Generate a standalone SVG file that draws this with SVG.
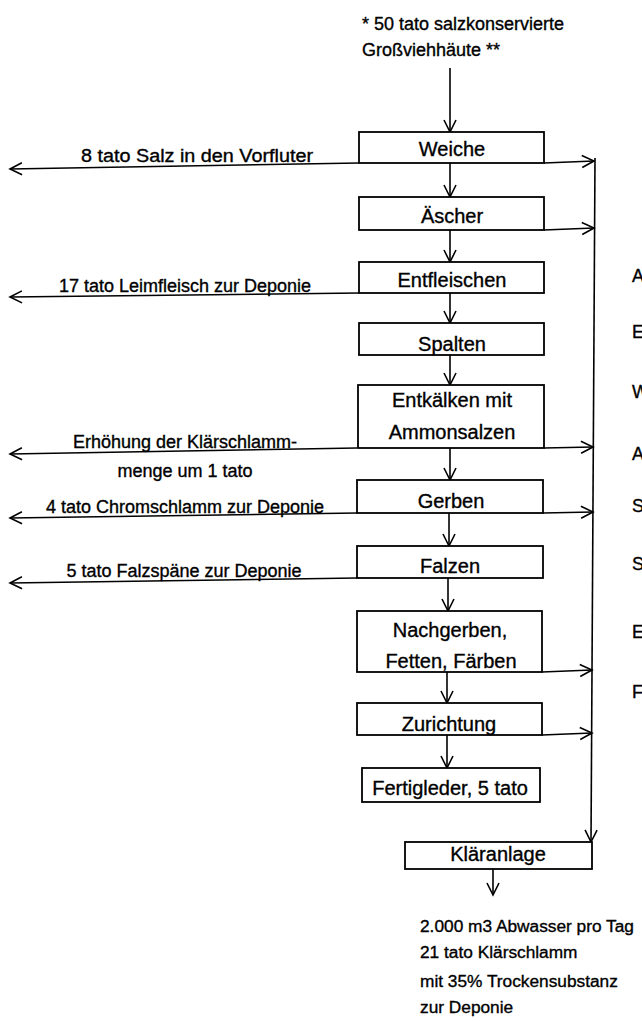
<svg xmlns="http://www.w3.org/2000/svg" width="642" height="1021" viewBox="0 0 642 1021">
<style>
  text { font-family: "Liberation Sans", Arial, sans-serif; font-size: 18px; fill: #000; stroke: #000; stroke-width: 0.35; }
  .c { text-anchor: middle; }
  .n { font-size: 20px; }
  .o { font-size: 17.3px; }
  .box { fill: #fff; stroke: #000; stroke-width: 1.8; }
  .arr { fill: none; stroke: #000; stroke-width: 1.6; marker-end: url(#ah); }
</style>
<defs>
  <marker id="ah" viewBox="0 0 14 14" markerUnits="userSpaceOnUse" markerWidth="14" markerHeight="14" refX="12" refY="7" orient="auto" overflow="visible">
    <path d="M0,1 L12,7 L0,13" fill="none" stroke="#000" stroke-width="1.6"/>
  </marker>
</defs>
<rect width="642" height="1021" fill="#fff"/>

<g id="input">
  <text x="362" y="30">* 50 tato salzkonservierte</text>
  <text x="362" y="56">Großviehhäute **</text>
</g>

<g id="connectors">
  <path class="arr" d="M450,68 L450,132"/>
  <path class="arr" d="M450,163 L450,197"/>
  <path class="arr" d="M450,230 L450,262"/>
  <path class="arr" d="M450,293 L450,323"/>
  <path class="arr" d="M450,355 L450,385"/>
  <path class="arr" d="M450,448 L450,480"/>
  <path class="arr" d="M449,513 L449,546"/>
  <path class="arr" d="M448,578 L448,611"/>
  <path class="arr" d="M447,672 L447,703"/>
  <path class="arr" d="M447,735 L447,768"/>
  <path class="arr" d="M359,163 L10,169"/>
  <path class="arr" d="M359,293 L10,297"/>
  <path class="arr" d="M357,448 L10,454"/>
  <path class="arr" d="M357,513 L10,518"/>
  <path class="arr" d="M357,578 L10,583"/>
  <path class="arr" d="M544,163 L594,161"/>
  <path class="arr" d="M544,230 L594,228"/>
  <path class="arr" d="M544,448 L593,447"/>
  <path class="arr" d="M543,513 L593,512"/>
  <path class="arr" d="M542,672 L592,670"/>
  <path class="arr" d="M542,735 L592,733"/>
  <path class="arr" d="M595,158 L591,842"/>
  <path class="arr" d="M493,869 L493,895"/>
</g>

<g id="labels-left">
  <text class="c" x="197" y="162" textLength="232" lengthAdjust="spacingAndGlyphs">8 tato Salz in den Vorfluter</text>
  <text class="c" x="185" y="292">17 tato Leimfleisch zur Deponie</text>
  <text class="c" x="185" y="448">Erhöhung der Klärschlamm-</text>
  <text class="c" x="185" y="477">menge um 1 tato</text>
  <text class="c" x="185" y="513">4 tato Chromschlamm zur Deponie</text>
  <text class="c" x="184" y="577">5 tato Falzspäne zur Deponie</text>
</g>

<g id="weiche"><rect class="box" x="359" y="132" width="185" height="31"/><text class="c n" x="452" y="156">Weiche</text></g>
<g id="aescher"><rect class="box" x="359" y="197" width="185" height="33"/><text class="c n" x="452" y="223">Äscher</text></g>
<g id="entfleischen"><rect class="box" x="359" y="262" width="185" height="31"/><text class="c n" x="452" y="287">Entfleischen</text></g>
<g id="spalten"><rect class="box" x="359" y="323" width="185" height="32"/><text class="c n" x="452" y="351">Spalten</text></g>
<g id="entkaelken"><rect class="box" x="358" y="385" width="186" height="63"/><text class="c n" x="452" y="407">Entkälken mit</text><text class="c n" x="452" y="439">Ammonsalzen</text></g>
<g id="gerben"><rect class="box" x="357" y="480" width="186" height="33"/><text class="c n" x="451" y="508">Gerben</text></g>
<g id="falzen"><rect class="box" x="357" y="546" width="186" height="32"/><text class="c n" x="450" y="573">Falzen</text></g>
<g id="nachgerben"><rect class="box" x="357" y="611" width="185" height="61"/><text class="c n" x="450" y="637">Nachgerben,</text><text class="c n" x="451" y="668">Fetten, Färben</text></g>
<g id="zurichtung"><rect class="box" x="357" y="703" width="185" height="32"/><text class="c n" x="449" y="731">Zurichtung</text></g>
<g id="fertigleder"><rect class="box" x="362" y="768" width="178" height="34"/><text class="c n" x="450" y="795">Fertigleder, 5 tato</text></g>
<g id="klaeranlage"><rect class="box" x="405" y="842" width="187" height="27"/><text class="c n" x="498" y="861">Kläranlage</text></g>

<g id="output">
  <text class="o" x="420" y="932">2.000 m3 Abwasser pro Tag</text>
  <text class="o" x="420" y="958">21 tato Klärschlamm</text>
  <text class="o" x="420" y="987">mit 35% Trockensubstanz</text>
  <text class="o" x="420" y="1013">zur Deponie</text>
</g>

<g id="side-letters">
  <text x="632" y="282">A</text>
  <text x="632" y="338">E</text>
  <text x="632" y="398">W</text>
  <text x="632" y="460">A</text>
  <text x="632" y="512">S</text>
  <text x="632" y="570">S</text>
  <text x="632" y="638">E</text>
  <text x="632" y="698">F</text>
</g>
</svg>
